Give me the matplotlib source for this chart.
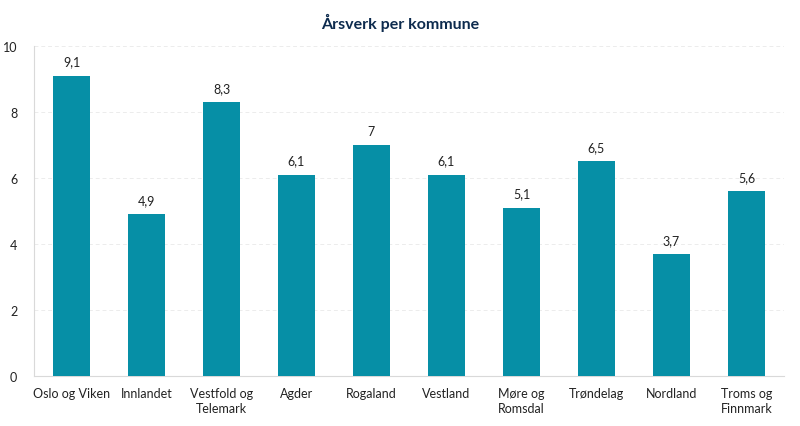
import matplotlib
matplotlib.use("Agg")
import matplotlib.pyplot as plt

categories = ["Oslo og Viken", "Innlandet", "Vestfold og\nTelemark", "Agder", "Rogaland",
              "Vestland", "Møre og\nRomsdal", "Trøndelag", "Nordland", "Troms og\nFinnmark"]
values = [9.1, 4.9, 8.3, 6.1, 7.0, 6.1, 5.1, 6.5, 3.7, 5.6]
value_labels = ["9,1", "4,9", "8,3", "6,1", "7", "6,1", "5,1", "6,5", "3,7", "5,6"]
yticks = [0, 2, 4, 6, 8, 10]

plt.rcParams['font.family'] = ['Lato', 'DejaVu Sans']

fig = plt.figure(figsize=(8, 4.27), dpi=100)
ax = fig.add_axes([0.0425, 0.117, 0.9375, 0.773])

x = list(range(len(categories)))
ax.bar(x, values, width=0.5, color="#068fa6", zorder=3)
for xi, v, lab in zip(x, values, value_labels):
    ax.text(xi, v + 0.25, lab, ha="center", va="bottom", fontsize=9, color="#222222")

ax.set_xlim(-0.5, len(categories) - 0.5)
ax.set_ylim(0, 10)
ax.set_yticks(yticks)
ax.set_yticklabels([str(t) for t in yticks])
ax.set_xticks(x)
ax.set_xticklabels(categories, fontsize=9, color="#222222", linespacing=1.25)
ax.tick_params(axis="y", labelsize=9, colors="#222222", length=0, pad=12)
ax.tick_params(axis="x", length=0, pad=8)
ax.grid(axis="y", color="#ececec", linestyle=(0, (4, 3)), linewidth=0.7, zorder=0)
for s in ["top", "right"]:
    ax.spines[s].set_visible(False)
ax.spines["left"].set_color("#d9d9d9")
ax.spines["bottom"].set_color("#d9d9d9")

fig.suptitle("Årsverk per kommune", x=0.5, y=0.968, fontsize=11.5, fontweight="bold", color="#0d2b4e")

fig.savefig("out.png", dpi=100)
